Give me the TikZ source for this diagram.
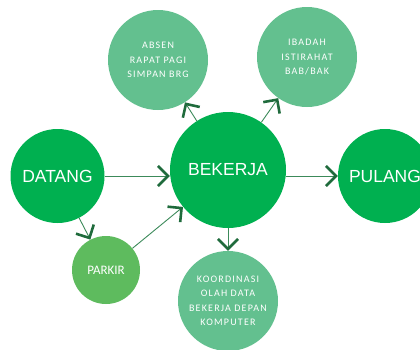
\documentclass[tikz,border=0pt]{standalone}
\usepackage{fontspec}
\setmainfont{Liberation Sans}
\newfontfamily\smallfont[LetterSpace=12]{Carlito}
\newfontfamily\midfont{Carlito}
\usetikzlibrary{arrows.meta}
\definecolor{maingreen}{HTML}{00B050}
\definecolor{lightgreen}{HTML}{63C08F}
\definecolor{parkgreen}{HTML}{5EBB5E}
\definecolor{linegreen}{HTML}{3C8A5A}
\definecolor{headgreen}{HTML}{1F6B3C}
\tikzset{
  bigc/.style={circle, fill=maingreen, text=white, minimum size=94pt, inner sep=0pt,
    font=\fontsize{17.5}{20}\selectfont},
  lightc/.style={circle, fill=lightgreen, text=white, minimum size=100pt, inner sep=0pt,
    align=center, font=\smallfont\fontsize{10}{14.5}\selectfont},
  parkc/.style={circle, fill=parkgreen, text=white, minimum size=68pt, inner sep=0pt,
    font=\midfont\fontsize{13}{15}\selectfont},
  conn/.style={draw=linegreen, line width=0.9pt,
    -{Straight Barb[length=10pt, width=20pt, line width=2.6pt, color=headgreen]}}
}
\begin{document}
\begin{tikzpicture}[x=1pt, y=-1pt]
\useasboundingbox (0,0) rectangle (420,349);
\clip (0,0) rectangle (420,349);
\node[bigc] (datang) at (57.5,176) {DATANG};
\node[bigc, minimum size=116pt] (bekerja) at (228,170) {BEKERJA};
\node[bigc] (pulang) at (385,176) {PULANG};
\node[lightc] (absen) at (158,60) {ABSEN\\RAPAT PAGI\\SIMPAN BRG};
\node[lightc] (ibadah) at (307,57) {IBADAH\\ISTIRAHAT\\BAB/BAK};
\node[lightc] (koord) at (228,301) {KOORDINASI\\OLAH DATA\\BEKERJA DEPAN\\KOMPUTER};
\node[parkc] (parkir) at (106,270) {PARKIR};
\draw[conn] (datang.east) -- (datang.east -| bekerja.west);
\draw[conn] (pulang.west -| bekerja.east) -- (pulang.west);
\draw[conn] (datang) -- (parkir);
\draw[conn] (parkir) -- (bekerja);
\draw[conn] (bekerja) -- (koord);
\draw[conn] (bekerja) -- (absen);
\draw[conn] (bekerja) -- (ibadah);
\end{tikzpicture}
\end{document}
